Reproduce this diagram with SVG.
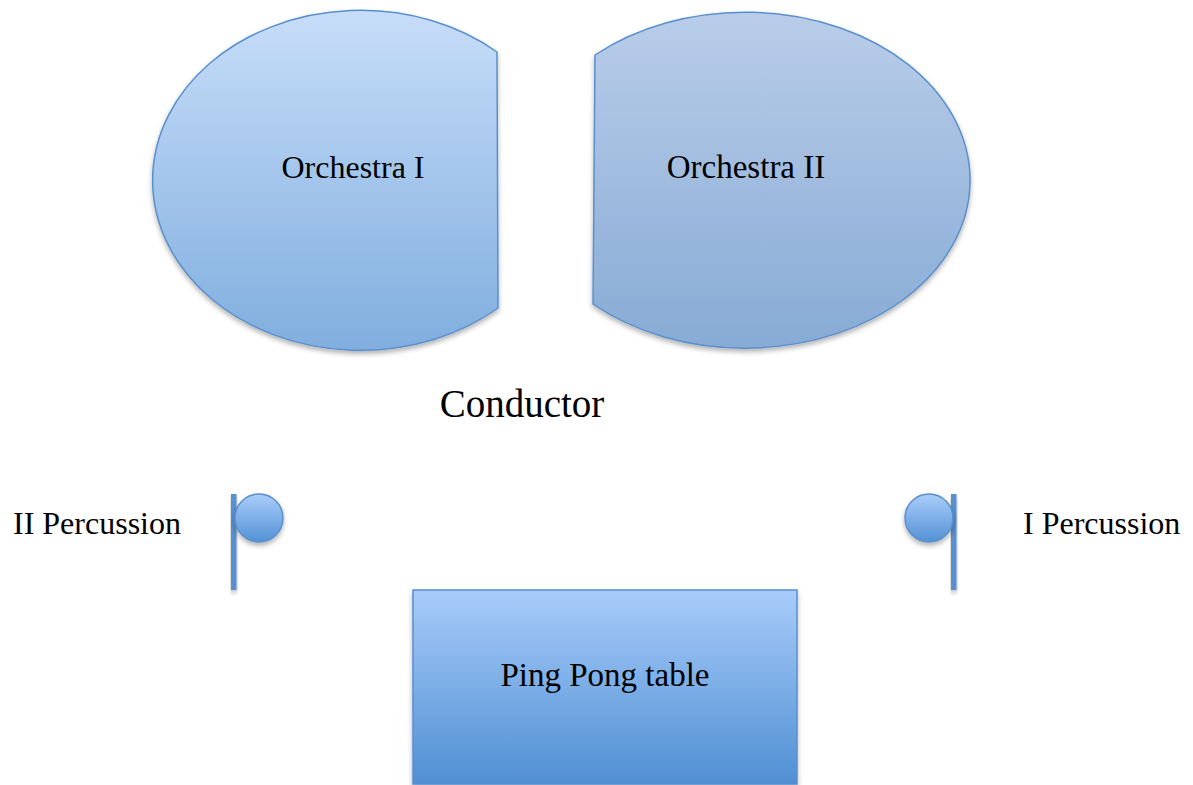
<svg xmlns="http://www.w3.org/2000/svg" width="1193" height="785" viewBox="0 0 1193 785">
<defs>
<linearGradient id="gO1" x1="0" y1="0" x2="0" y2="1"><stop offset="0" stop-color="#c7ddf9"/><stop offset="1" stop-color="#80aede"/></linearGradient>
<linearGradient id="gO2" x1="0" y1="0" x2="0" y2="1"><stop offset="0" stop-color="#b9cde9"/><stop offset="1" stop-color="#87abd5"/></linearGradient>
<linearGradient id="gT" x1="0" y1="0" x2="0" y2="1"><stop offset="0" stop-color="#a8ccfa"/><stop offset="1" stop-color="#4f8fd3"/></linearGradient>
<linearGradient id="gC" x1="0" y1="0" x2="0" y2="1"><stop offset="0" stop-color="#aacdf9"/><stop offset="1" stop-color="#5391d6"/></linearGradient>
<filter id="sh" x="-10%" y="-10%" width="120%" height="130%"><feDropShadow dx="0" dy="3" stdDeviation="2.5" flood-color="#000" flood-opacity="0.3"/></filter>
</defs>
<style>
.shape{stroke:#5a8fcd;stroke-width:1.5;filter:url(#sh)}
.bar{fill:#5890d0;filter:url(#sh)}
.lbl{font-family:"Liberation Serif","Times New Roman",serif;fill:#000}
</style>
<g id="orchestra1">
<path class="shape" fill="url(#gO1)" d="M497,52 A208,170 0 1 0 498,308 Z"/>
<text class="lbl" x="353" y="178" font-size="32" text-anchor="middle">Orchestra I</text>
</g>
<g id="orchestra2">
<path class="shape" fill="url(#gO2)" d="M595,55 A225,168 0 1 1 593,304 Z"/>
<text class="lbl" x="746" y="178" font-size="33" text-anchor="middle">Orchestra II</text>
</g>
<g id="conductor">
<text class="lbl" x="522" y="417" font-size="39" text-anchor="middle">Conductor</text>
</g>
<g id="percussion2">
<rect class="bar" x="231" y="494" width="5.5" height="96"/>
<circle class="shape" fill="url(#gC)" cx="259" cy="518" r="24"/>
<text class="lbl" x="13" y="534" font-size="32">II Percussion</text>
</g>
<g id="percussion1">
<rect class="bar" x="951" y="494" width="5.5" height="96"/>
<circle class="shape" fill="url(#gC)" cx="929" cy="518" r="24"/>
<text class="lbl" x="1023" y="534" font-size="32">I Percussion</text>
</g>
<g id="pingpong">
<rect class="shape" fill="url(#gT)" x="413" y="590" width="384" height="194"/>
<text class="lbl" x="605" y="686" font-size="33" text-anchor="middle">Ping Pong table</text>
</g>
<g id="connectors"/>
</svg>
